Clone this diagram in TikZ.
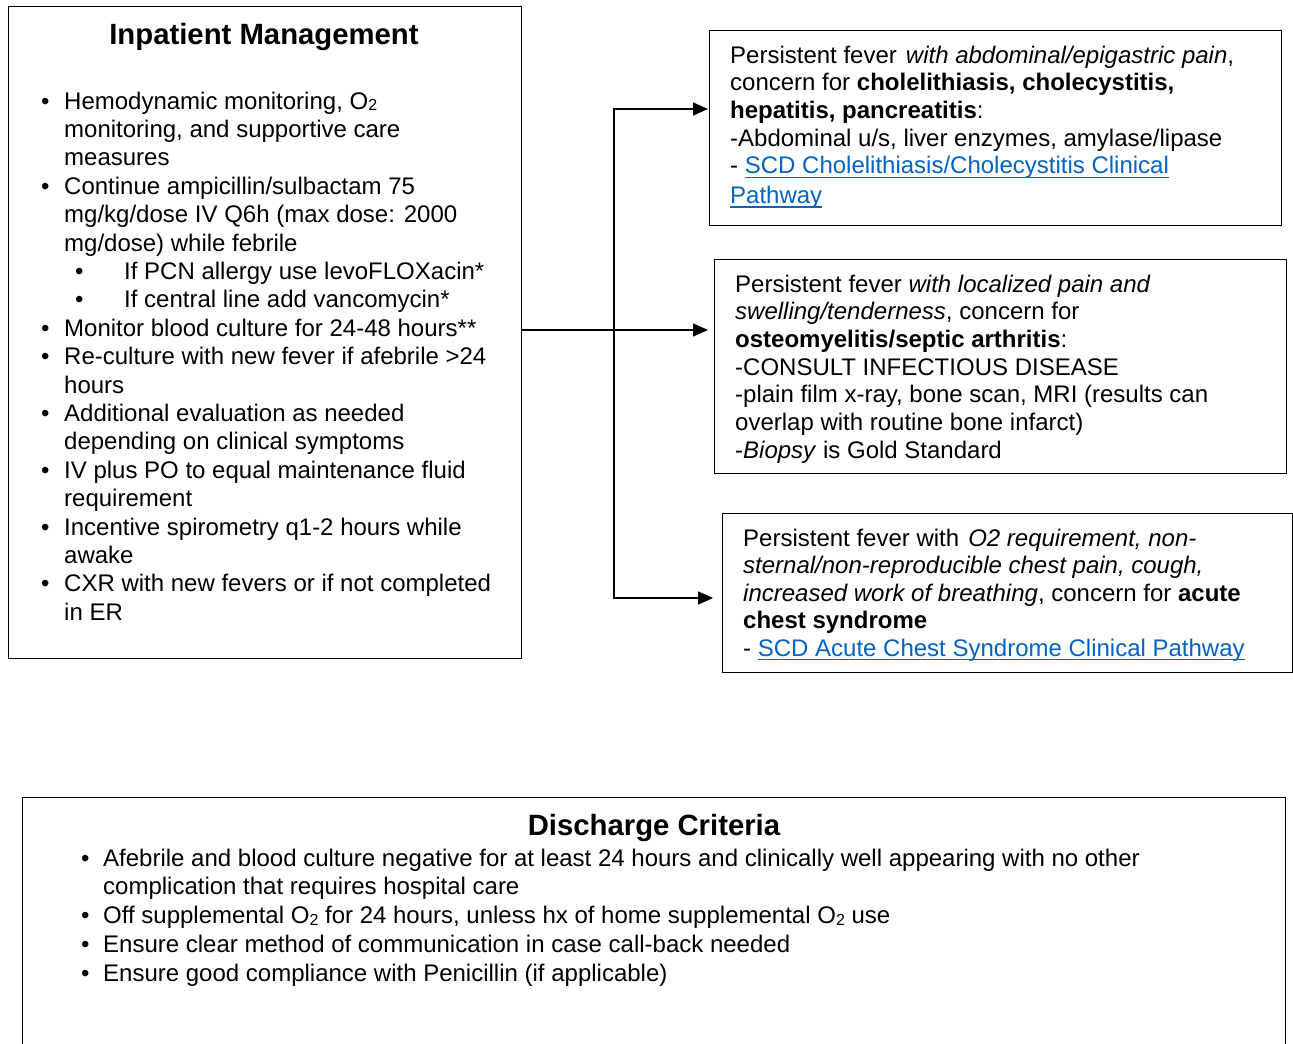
\documentclass[tikz,border=0pt]{standalone}
\usepackage{fontspec}
\setmainfont{Liberation Sans}
\usetikzlibrary{arrows.meta}
\definecolor{linkblue}{HTML}{0563C1}
% hyperlink-style text: blue with a solid underline
\newcommand{\lnk}[1]{{\color{linkblue}\setbox0\hbox{#1}\rlap{\rule[-4pt]{\wd0}{1.3pt}}\box0}}
\newcommand{\bodyfont}[1][27.7]{\fontsize{24}{#1}\selectfont}
\newcommand{\titlefont}{\bfseries\fontsize{29.3}{33}\selectfont}
\newcommand{\sbs}[1]{\raisebox{-1.5pt}{\fontsize{16}{16}\selectfont #1}}
\newcommand{\bul}{\makebox[23pt][l]{\textbullet}}
\newcommand{\ind}{\hspace*{23pt}}
\newcommand{\subbul}{\hspace*{34pt}\makebox[49pt][l]{\textbullet}}
\newcommand{\dbul}{\makebox[22pt][l]{\textbullet}}
\newcommand{\dind}{\hspace*{22pt}}
\tikzset{
  box/.style={draw, line width=1.3pt, inner sep=0pt, anchor=north west},
  txt/.style={inner sep=0pt, anchor=base west},
  ttl/.style={inner sep=0pt, anchor=base, font=\titlefont},
  conn/.style={line width=1.3pt},
  tip/.style={-{Triangle[length=15pt,width=13pt]}}
}
\begin{document}
\begin{tikzpicture}[x=1pt,y=-1pt]
\clip (0,0) rectangle (1293,1044);
\fill[white] (0,0) rectangle (1293,1044);

% boxes
\node[box, minimum width=513pt, minimum height=652pt] (inpt) at (8,6) {};
\node[box, minimum width=572pt, minimum height=195pt] (abd) at (709,30) {};
\node[box, minimum width=572pt, minimum height=214pt] (osteo) at (714,259) {};
\node[box, minimum width=570pt, minimum height=159pt] (acs) at (722,513) {};
\node[box, minimum width=1263pt, minimum height=300pt] (disch) at (22,797) {};

% inpatient management
\node[ttl] (inpt-title) at (264,44) {Inpatient Management};
\node[txt] (inpt-list) at (41,109) {\parbox[t]{480pt}{\bodyfont[28.4]%
\bul Hemodynamic monitoring, O\sbs{2}\\
\ind monitoring, and supportive care\\
\ind measures\\
\bul Continue ampicillin/sulbactam 75\\
\ind mg/kg/dose IV Q6h (max dose: 2000\\
\ind mg/dose) while febrile\\
\subbul If PCN allergy use levoFLOXacin*\\
\subbul If central line add vancomycin*\\
\bul Monitor blood culture for 24-48 hours**\\
\bul Re-culture with new fever if afebrile >24\\
\ind hours\\
\bul Additional evaluation as needed\\
\ind depending on clinical symptoms\\
\bul IV plus PO to equal maintenance fluid\\
\ind requirement\\
\bul Incentive spirometry q1-2 hours while\\
\ind awake\\
\bul CXR with new fevers or if not completed\\
\ind in ER}};

% right-hand boxes
\node[txt] (abd-text) at (730,63) {\parbox[t]{545pt}{\bodyfont%
Persistent fever\hspace{9pt}\textit{with abdominal/epigastric pain},\\
concern for \textbf{cholelithiasis, cholecystitis,}\\
\textbf{hepatitis, pancreatitis}:\\
-Abdominal u/s, liver enzymes, amylase/lipase\\
- \lnk{SCD Cholelithiasis/Cholecystitis Clinical}\\[2.3pt]
\lnk{Pathway}}};

\node[txt] (osteo-text) at (735,292) {\parbox[t]{545pt}{\bodyfont%
Persistent fever \textit{with localized pain and}\\
\textit{swelling/tenderness}, concern for\\
\textbf{osteomyelitis/septic arthritis}:\\
-CONSULT INFECTIOUS DISEASE\\
-plain film x-ray, bone scan, MRI (results can\\
overlap with routine bone infarct)\\
-\textit{Biopsy} is Gold Standard}};

\node[txt] (acs-text) at (743,546) {\parbox[t]{545pt}{\bodyfont[27.5]%
Persistent fever with\hspace{9pt}\textit{O2 requirement, non-}\\
\textit{sternal/non-reproducible chest pain, cough,}\\
\textit{increased work of breathing}, concern for \textbf{acute}\\
\textbf{chest syndrome}\\
- \lnk{SCD Acute Chest Syndrome Clinical Pathway}}};

% discharge criteria
\node[ttl] (disch-title) at (654,835) {Discharge Criteria};
\node[txt] (disch-list) at (81,866) {\parbox[t]{1180pt}{\bodyfont[28.75]%
\dbul Afebrile and blood culture negative for at least 24 hours and clinically well appearing with no other\\
\dind complication that requires hospital care\\
\dbul Off supplemental O\sbs{2} for 24 hours, unless hx of home supplemental O\sbs{2} use\\
\dbul Ensure clear method of communication in case call-back needed\\
\dbul Ensure good compliance with Penicillin (if applicable)}};

% connectors
\coordinate (split) at (614,330);
\draw[conn] (inpt.east |- split) -- (split);
\draw[conn, tip, shorten >=6pt] (split) -- (osteo.west |- split);
\draw[conn, tip, shorten >=1pt] (split) |- (abd.west |- 0,109);
\draw[conn, tip, shorten >=9pt] (split) |- (acs.west |- 0,598);
\end{tikzpicture}
\end{document}
